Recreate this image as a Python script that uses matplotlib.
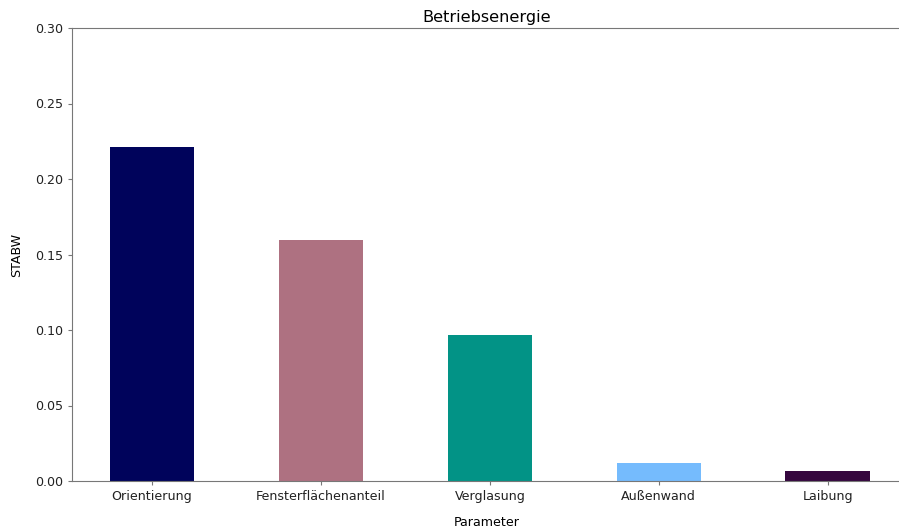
import matplotlib
matplotlib.use("Agg")
import matplotlib.pyplot as plt

# Standardabweichung je Parameter
parameter = ["Orientierung", "Fensterflächenanteil", "Verglasung", "Außenwand", "Laibung"]
stabw = [0.2212, 0.1596, 0.0967, 0.0119, 0.0063]
farben = ["xkcd:dark blue", "xkcd:mauve", "xkcd:teal", "xkcd:sky blue", "xkcd:dark purple"]

plt.rcParams["font.size"] = 9.1

fig = plt.figure(figsize=(8.99, 5.31), dpi=100)
ax = fig.add_axes([72 / 899, 1 - 481 / 531, 830 / 899, 453 / 531])

x = range(len(parameter))
ax.bar(x, stabw, width=0.5, color=farben)
ax.set_xticks(list(x))
ax.set_xticklabels(parameter)
ax.set_xlim(-0.474, 4.44)
ax.set_ylim(0, 0.30)
ax.set_yticks([0.0, 0.05, 0.10, 0.15, 0.20, 0.25, 0.30])
ax.set_yticklabels(["0.00", "0.05", "0.10", "0.15", "0.20", "0.25", "0.30"])

for s in ax.spines.values():
    s.set_color("#777777")
ax.tick_params(colors="#777777", labelcolor="#222222", length=3.2, pad=3.0)

ax.set_title("Betriebsenergie", fontsize=11.6, pad=4)
ax.set_xlabel("Parameter", labelpad=9.5)
ax.set_ylabel("STABW", labelpad=9)

fig.savefig("out.png", dpi=100)
